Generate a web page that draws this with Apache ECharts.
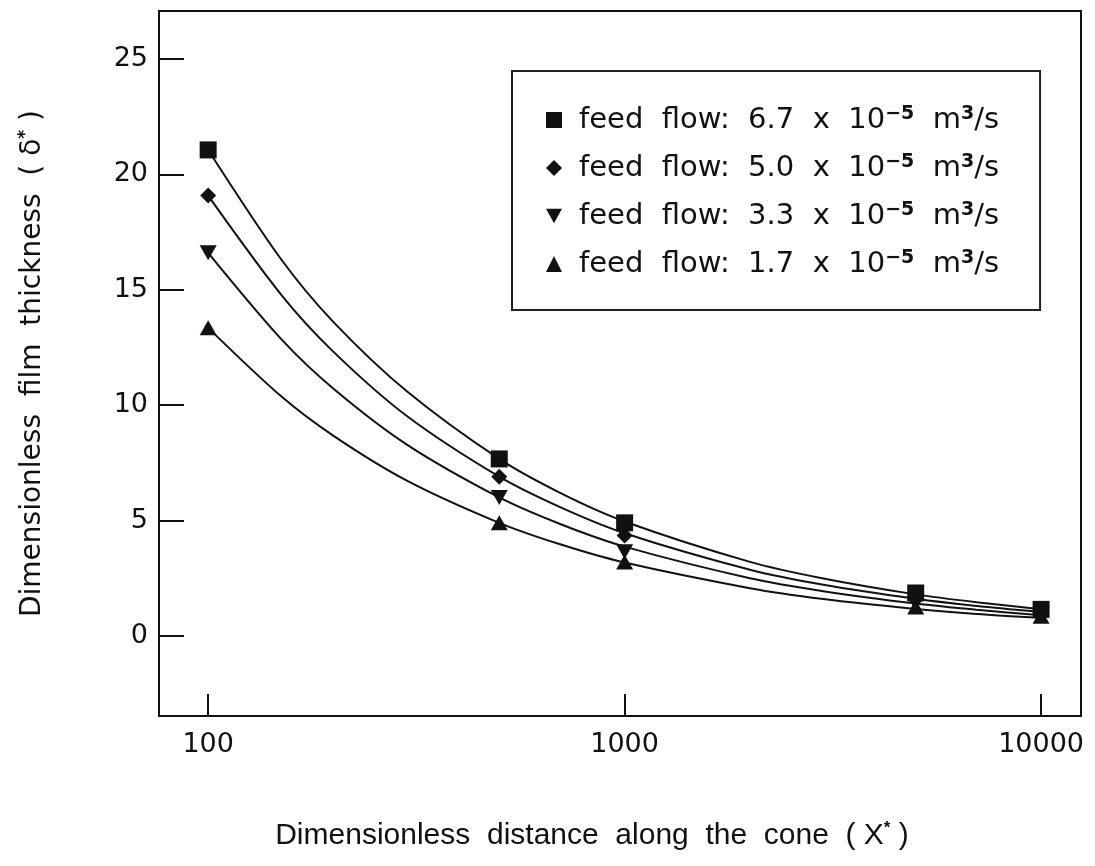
<!DOCTYPE html>
<html><head><meta charset="utf-8">
<script src="https://cdn.jsdelivr.net/npm/echarts@6/dist/echarts.min.js"></script>
<style>html,body{margin:0;padding:0;background:#fff}#c{width:1095px;height:866px}</style>
</head><body><div id="c"></div>
<script>
// measured points (markers)
const xValues = [100, 500, 1000, 5000, 10000];
const flowRates = ['6.7', '5.0', '3.3', '1.7'];
const s67 = [21.06, 7.67, 4.9, 1.86, 1.15];
const s50 = [19.08, 6.9, 4.35, 1.6, 1.05];
const s33 = [16.6, 6.0, 3.65, 1.4, 0.95];
const s17 = [13.35, 4.9, 3.2, 1.25, 0.85];
// fitted curves
const curveX = [100, 150, 200, 300, 500, 700, 1000, 2000, 3000, 5000, 7000, 10000];
const c67 = [21.06, 16.3, 13.6, 10.6, 7.67, 6.2, 4.96, 3.21, 2.49, 1.80, 1.46, 1.16];
const c50 = [19.08, 14.77, 12.31, 9.53, 6.9, 5.58, 4.45, 2.87, 2.22, 1.61, 1.30, 1.04];
const c33 = [16.6, 12.85, 10.71, 8.29, 6.0, 4.85, 3.87, 2.50, 1.94, 1.40, 1.13, 0.90];
const c17 = [13.35, 10.37, 8.67, 6.73, 4.9, 3.97, 3.18, 2.07, 1.60, 1.17, 0.95, 0.78];
const yTicks = [0, 5, 10, 15, 20, 25];
const xTicks = [100, 1000, 10000];

const pointSets = [s67, s50, s33, s17];
const curveSets = [c67, c50, c33, c17];
const symbols = ['rect', 'diamond', 'path://M0,0 L10,0 L5,9 Z', 'triangle'];
const sizes = [[17,17], [16,16], [17,15], [17,15]];
const FONT = 'DejaVu Sans';

const series = [];
curveSets.forEach((c, i) => {
  series.push({
    type: 'line', name: 'curve' + i,
    data: curveX.map((x, j) => [x, c[j]]),
    smooth: 0.3, showSymbol: false, symbol: 'none',
    lineStyle: {color: '#111', width: 2}, z: 2, silent: true
  });
});
pointSets.forEach((d, i) => {
  series.push({
    type: 'scatter', name: 'f|' + flowRates[i],
    data: xValues.map((x, j) => [x, d[j]]),
    symbol: symbols[i], symbolSize: sizes[i],
    itemStyle: {color: '#111', opacity: 1}, z: 3
  });
});

const chart = echarts.init(document.getElementById('c'));
chart.setOption({
  animation: false,
  grid: {left: 159, top: 11, right: 14, bottom: 150, show: true, borderColor: '#111', borderWidth: 2, backgroundColor: 'transparent'},
  legend: {
    orient: 'vertical', left: 512, top: 71,
    data: flowRates.map(r => 'f|' + r),
    borderColor: '#222', borderWidth: 2,
    padding: [34, 41, 31, 34],
    itemGap: 18, itemWidth: 16, itemHeight: 16,
    textStyle: {
      fontFamily: FONT, fontSize: 29, color: '#111',
      rich: {
        g: {width: 12},
        t: {fontFamily: FONT, fontSize: 29, color: '#111', lineHeight: 30, verticalAlign: 'bottom'},
        s: {fontFamily: FONT, fontSize: 19, color: '#111', lineHeight: 30, verticalAlign: 'top', fontWeight: 'bold'}
      }
    },
    formatter: function (name) {
      const r = name.split('|')[1];
      return '{g|}{t|feed  flow:  ' + r + '  x  10}{s|−5}{t|  m}{s|3}{t|/s}';
    }
  },
  xAxis: {
    type: 'log', logBase: 10, min: 76.2, max: 12470,
    axisLine: {onZero: false, lineStyle: {color: '#111', width: 2}},
    axisTick: {show: true, inside: true, length: 22, lineStyle: {color: '#111', width: 2}, customValues: xTicks},
    axisLabel: {fontFamily: FONT, fontSize: 27, color: '#111', margin: 15, customValues: xTicks,
      formatter: v => String(Math.round(v))},
    splitLine: {show: false},
    name: 'Dimensionless  distance  along  the  cone  ( X{s|*} )',
    nameLocation: 'middle', nameGap: 104,
    nameTextStyle: {fontFamily: 'Liberation Sans Narrow, Liberation Sans', fontSize: 30, color: '#111',
      padding: [0, 56, 0, 0],
      rich: {s: {fontSize: 17, verticalAlign: 'top', lineHeight: 32, color: '#111', fontWeight: 'bold'}}}
  },
  yAxis: {
    type: 'value', min: -3.47, max: 27.08,
    axisLine: {onZero: false, lineStyle: {color: '#111', width: 2}},
    axisTick: {show: true, inside: true, length: 25, lineStyle: {color: '#111', width: 2}, customValues: yTicks},
    axisLabel: {fontFamily: FONT, fontSize: 27, color: '#111', margin: 11, customValues: yTicks},
    splitLine: {show: false},
    name: 'Dimensionless  film  thickness  ( δ{s|*} )',
    nameLocation: 'middle', nameGap: 110, nameRotate: 90,
    nameTextStyle: {fontFamily: FONT, fontSize: 28, color: '#111',
      rich: {s: {fontSize: 17, verticalAlign: 'top', lineHeight: 32, color: '#111', fontWeight: 'bold'}}}
  },
  series: series
});
</script></body></html>
